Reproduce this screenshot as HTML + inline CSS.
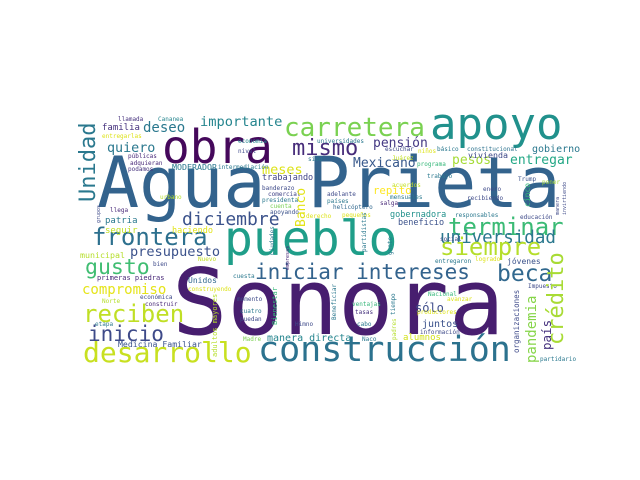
<!DOCTYPE html>
<html><head><meta charset="utf-8">
<style>
html,body{margin:0;padding:0;background:#fff;}
#cloud{position:relative;width:640px;height:480px;overflow:hidden;background:#fff;font-family:"DejaVu Sans Mono","Liberation Mono",monospace;}
#cloud span{position:absolute;white-space:nowrap;line-height:1;}
</style></head>
<body>
<div id="cloud"></div>
<script>
// [word, x, baseline (or bottom for vertical), font size, colour, vertical]
const words = [
["Agua Prieta",97,207,70,"#33638d",0],
["Sonora",172,335,92,"#471e6f",0],
["pueblo",224,256,48,"#1f9e89",0],
["obra",162,163,46,"#45085b",0],
["apoyo",430,140,44,"#21918c",0],
["construcción",258,363,35,"#2c728e",0],
["desarrollo",83,363,28,"#c8e020",0],
["carretera",284,137,26,"#7ad151",0],
["mismo",292,157,22,"#472c7a",0],
["frontera",92,245,24,"#2d708e",0],
["diciembre",182,226,18,"#3b528b",0],
["iniciar intereses",255,280,21,"#33638d",0],
["beca",497,282,23,"#31688e",0],
["terminar",448,235,24,"#3bbb75",0],
["universidad",440,245,17.5,"#2a788e",0],
["siempre",440,255,24,"#b5de2b",0],
["reciben",83,322,24,"#c0df25",0],
["inicio",88,342,21,"#3e4a89",0],
["gusto",85,275,21.5,"#40bd72",0],
["compromiso",82,295,14,"#e5e419",0],
["presupuesto",130,258,13.6,"#3b528b",0],
["deseo",143,133,14,"#2a788e",0],
["importante",200,128,13.7,"#25858e",0],
["quiero",107,153,13.4,"#2a788e",0],
["pensión",373,148,13,"#443983",0],
["Mexicano",353,168,13,"#38598c",0],
["pesos",452,165,13,"#a5db36",0],
["entregar",510,165,13,"#22a785",0],
["meses",262,175,13.5,"#dde318",0],
["trabajando",262,181,8.5,"#414487",0],
["familia",102,132,9,"#46327e",0],
["gobierno",532,153,10,"#2a788e",0],
["vivienda",468,158,8.3,"#3e4989",0],
["MODERADOR",172,170,8.3,"#2a788e",0],
["gobernadora",390,218,8.5,"#21918c",0],
["beneficio",398,226,8.5,"#3b528b",0],
["repito",373,195,10.7,"#fde725",0],
["patria",105,225,9,"#2a788e",0],
["seguir",105,235,9,"#c2df23",0],
["haciendo",172,234,8.5,"#e2e418",0],
["municipal",80,258,8.3,"#b5de2b",0],
["primeras piedras",97,281,7,"#482878",0],
["Unidos",188,284,8,"#31688e",0],
["Medicina Familiar",118,347,8.2,"#3b528b",0],
["manera directa",267,342,10,"#25858e",0],
["sólo",415,312,12,"#3e4c8a",0],
["juntos",422,328,10,"#3b528b",0],
["alumnos",403,342,9,"#d2e21b",0],
["jóvenes",507,265,8,"#3b528b",0],
["entregaron",435,264,6,"#2a788e",0],
["logrado",475,262,6,"#dde318",0],
["llamada",118,122,6,"#46327e",0],
["Cananea",158,122,6,"#25858e",0],
["entregarlas",102,139,6,"#dde318",0],
["economía",238,144,6,"#25858e",0],
["nivel",238,154,6,"#3e4a89",0],
["públicas",128,159,6,"#482878",0],
["adquieran",130,166,6,"#482878",0],
["podamos",128,172,6,"#46327e",0],
["intermediación",218,170,6,"#2a788e",0],
["sido",308,162,6,"#2a788e",0],
["urbano",160,200,6,"#b5de2b",0],
["llega",110,213,6,"#482878",0],
["banderazo",262,191,6,"#3e4a89",0],
["comercial",268,197,6,"#414487",0],
["presidenta",262,203,6,"#2a788e",0],
["cuenta",270,209,6,"#7ad151",0],
["apoyando",270,215,6,"#3b528b",0],
["derecho",306,219,6,"#dde318",0],
["universidades",317,144,6,"#2a788e",0],
["escuchar",385,152,6,"#3e4a89",0],
["niños",418,154,6,"#dde318",0],
["Juárez",392,161,6,"#c2df23",0],
["básico",437,152,6,"#2a788e",0],
["constitucional",467,152,6,"#2c728e",0],
["programa",417,167,6,"#35b779",0],
["trabajo",427,179,6,"#2a788e",0],
["Trump",518,182,6,"#3b528b",0],
["poner",542,185,6,"#a5db36",0],
["enero",483,192,6,"#3e4a89",0],
["acuerdos",392,188,6,"#c2df23",0],
["adelante",327,197,6,"#3e4a89",0],
["mensuales",390,200,6,"#2a788e",0],
["países",327,204,6,"#2a788e",0],
["salga",380,206,6,"#482878",0],
["helicóptero",333,210,6,"#31688e",0],
["recibiendo",467,201,6,"#3e4a89",0],
["pequeños",342,218,6,"#dde318",0],
["responsables",455,218,6,"#2a788e",0],
["educación",520,220,6,"#3e4a89",0],
["social",440,242,6,"#3e4a89",0],
["bien",153,267,6,"#3e4a89",0],
["Nuevo",198,262,6,"#c2df23",0],
["cuesta",233,279,6,"#2a788e",0],
["construyendo",188,292,6,"#dde318",0],
["económica",140,300,6,"#3e4a89",0],
["Norte",102,304,6,"#b5de2b",0],
["construir",145,307,6,"#482878",0],
["etapa",95,327,6,"#2a788e",0],
["momento",237,302,6,"#3e4a89",0],
["cuatro",240,314,6,"#2a788e",0],
["puedan",240,322,6,"#3e4a89",0],
["Madre",243,342,6,"#7ad151",0],
["Himno",295,327,6,"#3e4a89",0],
["Impuesto",528,289,6,"#3e4a89",0],
["Nacional",428,297,6,"#35b779",0],
["avanzar",447,302,6,"#dde318",0],
["ventajas",352,307,6,"#35b779",0],
["productores",417,315,6,"#dde318",0],
["tasas",355,315,6,"#46327e",0],
["cabo",357,327,6,"#2a788e",0],
["información",420,335,6,"#3e4a89",0],
["Naco",362,342,6,"#2a788e",0],
["partidario",540,362,6,"#2a788e",0],
["Unidad",78,202,22,"#2a788e",1],
["Banco",295,227,13,"#e2e418",1],
["crédito",546,345,22,"#a8db34",1],
["pandemia",525,363,14,"#86d549",1],
["organizaciones",513,353,7.5,"#3e4a89",1],
["país",541,350,12.5,"#46327e",1],
["cinco",524,207,8,"#35b779",1],
["adultos mayores",212,357,7,"#b5de2b",1],
["Bienestar",272,325,7,"#35b779",1],
["grupos",97,223,5,"#3e4a89",1],
["Ciudades",270,255,6,"#2a788e",1],
["empresas",286,270,5,"#482878",1],
["Beneficiar",332,320,6,"#2a788e",1],
["tiempo",391,315,6,"#2a788e",1],
["padres",392,340,6,"#b5de2b",1],
["partidistas",362,252,6,"#2a788e",1],
["gente",388,255,6,"#2a788e",1],
["manera",556,215,5,"#3e4a89",1],
["invirtiendo",563,215,5,"#3e4a89",1]
];
const cloud = document.getElementById('cloud');
for (const w of words) {
  const el = document.createElement('span');
  el.textContent = w[0];
  
  
  el.style.fontSize = w[3] + 'px';
  el.style.color = w[4];
  if (w[5]) {
    el.style.left = w[1] + 'px';
    el.style.top = w[2] + 'px';
    el.style.transformOrigin = '0 0';
    el.style.transform = 'rotate(-90deg)';
  } else {
    el.style.left = w[1] + 'px';
    el.style.top = (w[2] - 0.846 * w[3]) + 'px';
  }
  cloud.appendChild(el);
}
</script>
</body></html>
